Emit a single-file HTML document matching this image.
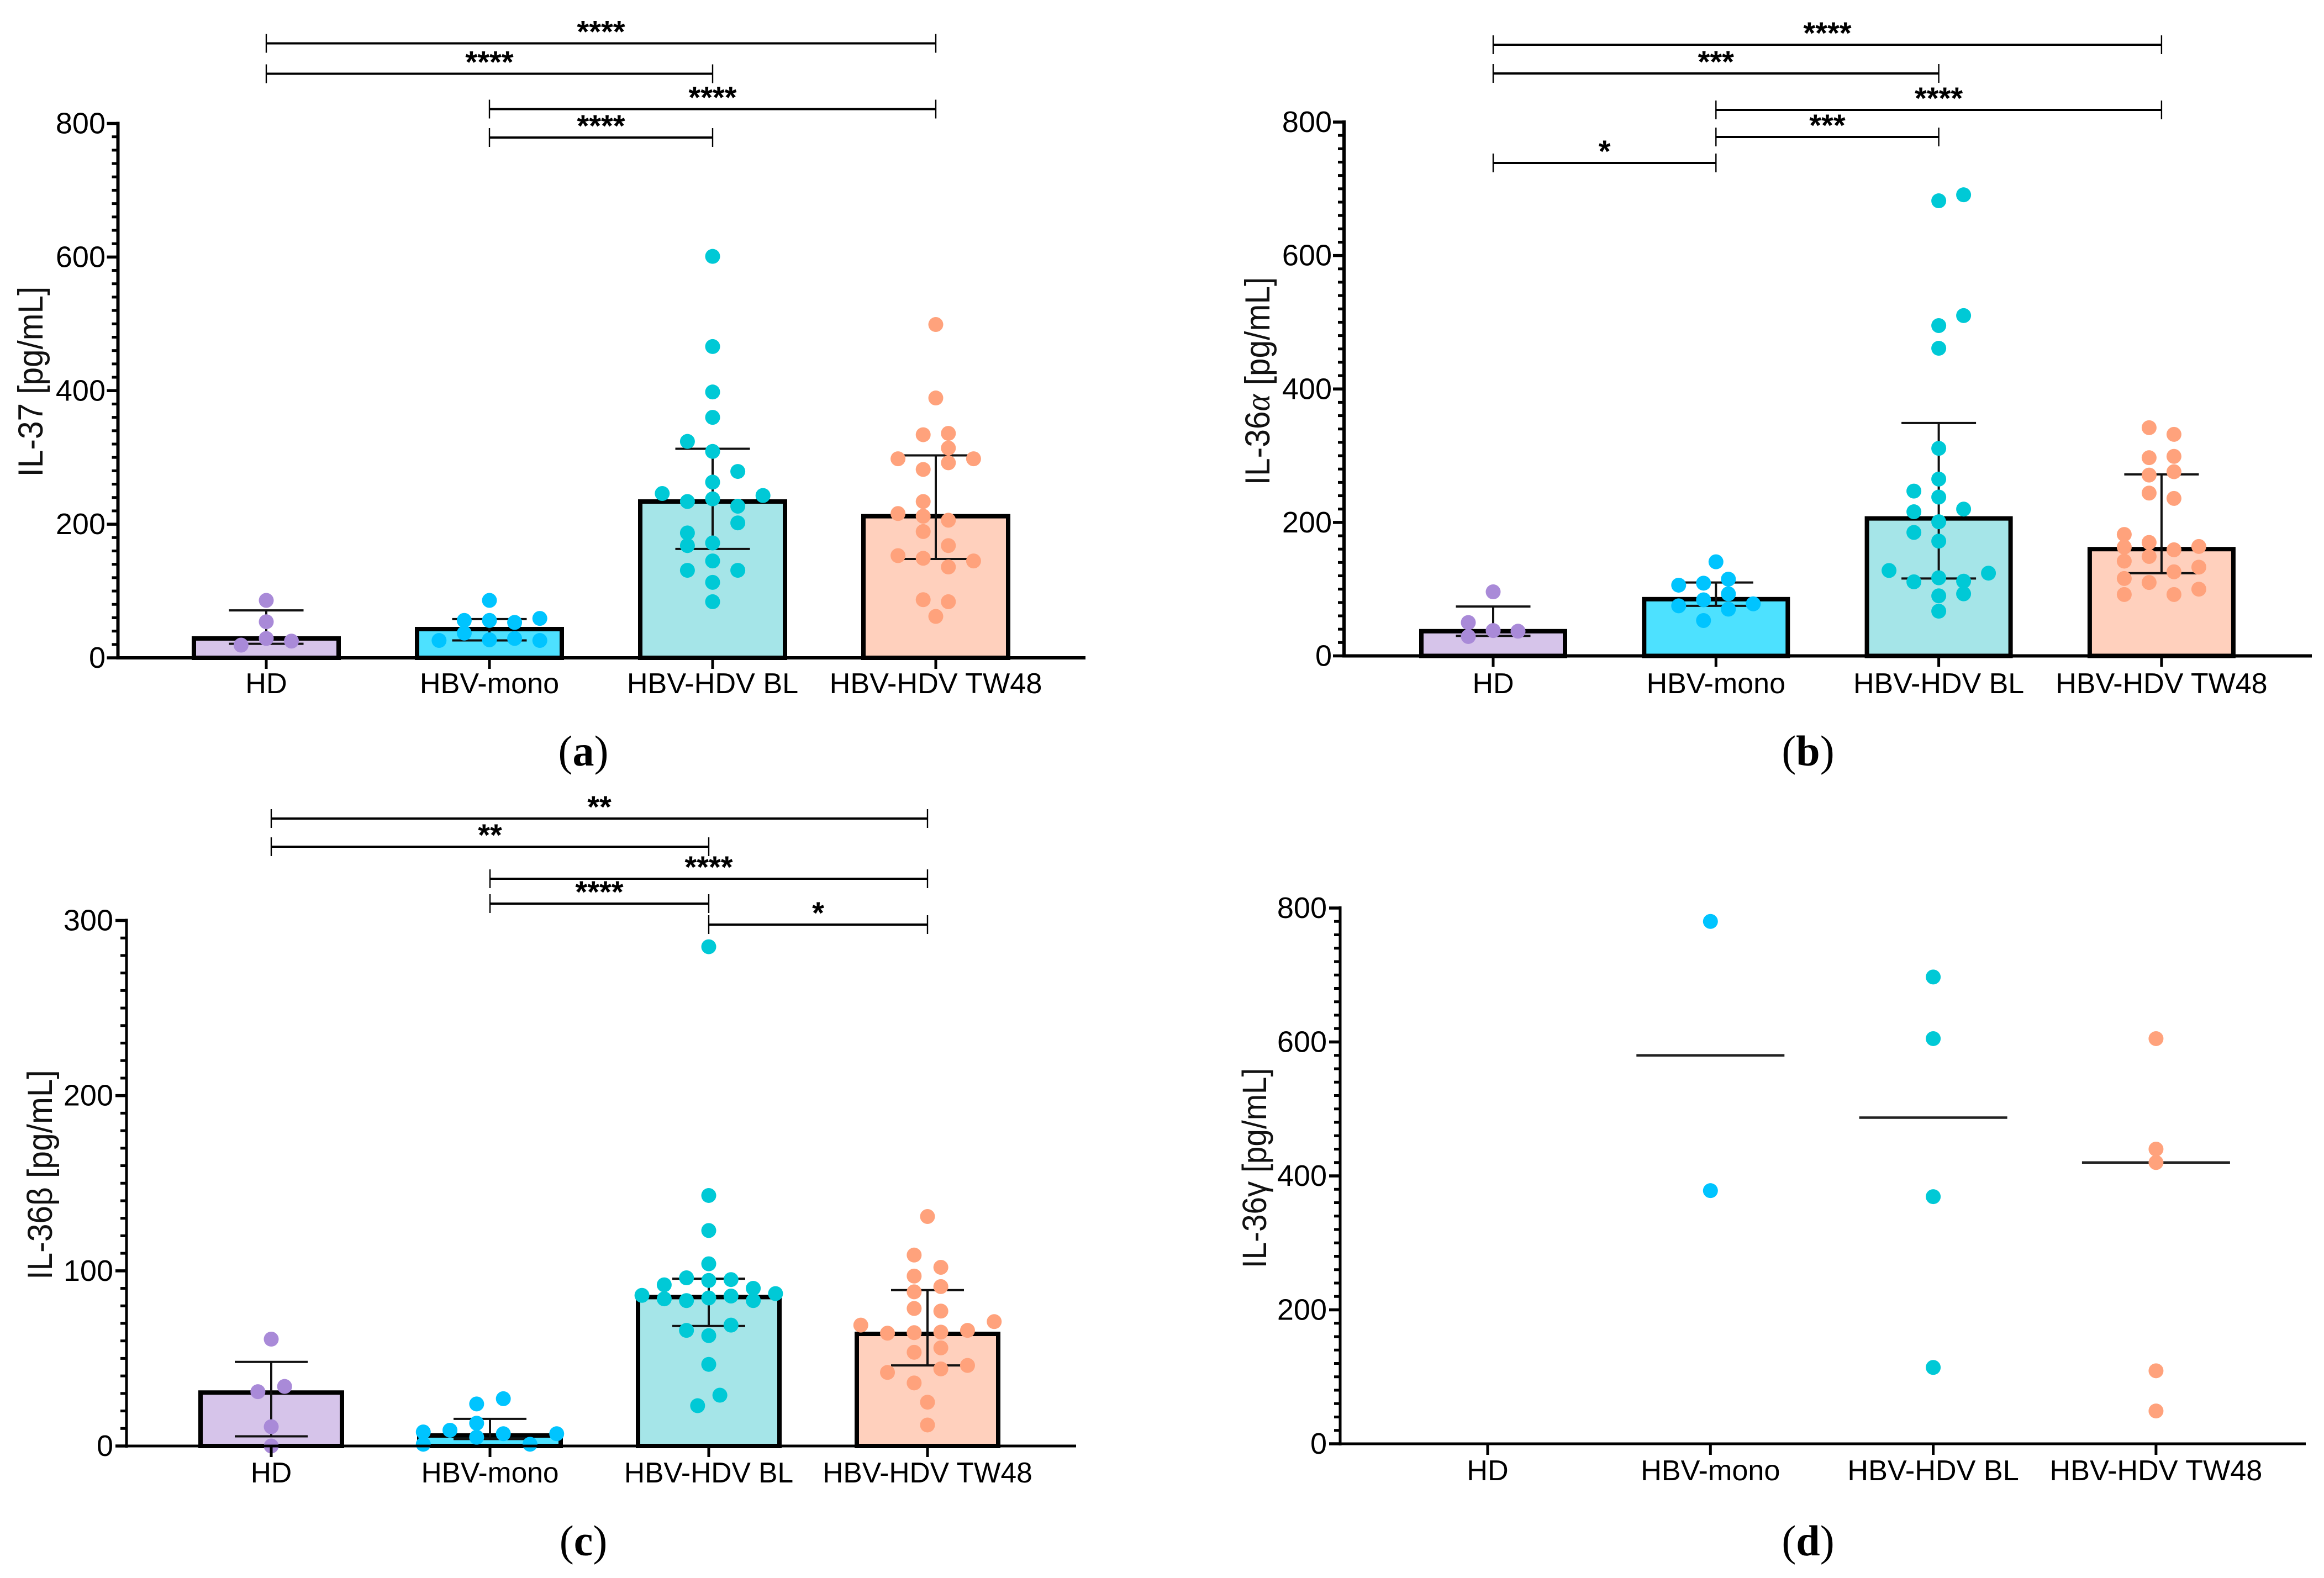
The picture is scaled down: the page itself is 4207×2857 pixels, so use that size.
<!DOCTYPE html>
<html lang="en">
<head>
<meta charset="utf-8">
<title>IL-37 and IL-36 cytokine levels</title>
<style>
html,body{margin:0;padding:0;background:#fff;}
svg{display:block;font-family:"Liberation Sans",Arial,sans-serif;}
</style>
</head>
<body>
<svg id="figure" xmlns="http://www.w3.org/2000/svg" width="4207" height="2857" viewBox="0 0 4207 2857">
  <rect x="0" y="0" width="4207" height="2857" fill="#fff"/>
</svg>
<script>
// ---------- shared categories ----------
const categories = ['HD', 'HBV-mono', 'HBV-HDV BL', 'HBV-HDV TW48'];

// ---------- panel (a) IL-37 ----------
const aYTicks = [0, 200, 400, 600, 800];
const aHdValues = [86, 54, 29, 19, 25];
const aHdSlots = [0, 0, 0, -1, 1];
const aMonoValues = [86, 59, 56, 56, 53, 37, 26, 27, 29, 26];
const aMonoSlots = [0, 2, -1, 0, 1, -1, -2, 0, 1, 2];
const aBlValues = [601, 466, 398, 360, 324, 309, 279, 263, 246, 243, 234, 238, 227, 202, 187, 172, 168, 145, 131, 131, 113, 84];
const aBlSlots = [0, 0, 0, 0, -1, 0, 1, 0, -2, 2, -1, 0, 1, 1, -1, 0, -1, 0, -1, 1, 0, 0];
const aTwValues = [499, 389, 334, 336, 314, 298, 298, 292, 282, 234, 216, 212, 206, 189, 168, 153, 149, 145, 136, 87, 84, 62];
const aTwSlots = [0, 0, -0.5, 0.5, 0.5, -1.5, 1.5, 0.5, -0.5, -0.5, -1.5, -0.5, 0.5, -0.5, 0.5, -1.5, -0.5, 1.5, 0.5, -0.5, 0.5, 0];
const aBarValues = [29, 43, 234, 212];
const aErrHigh = [71, 58, 313, 303];
const aErrLow = [21, 26, 163, 148];
const aBracketFrom = [0, 0, 1, 1];
const aBracketTo = [3, 2, 3, 2];
const aBracketStars = ['****', '****', '****', '****'];

// ---------- panel (b) IL-36 alpha ----------
const bYTicks = [0, 200, 400, 600, 800];
const bHdValues = [96, 50, 38, 37, 29];
const bHdSlots = [0, -1, 0, 1, -1];
const bMonoValues = [141, 115, 109, 106, 93, 84, 78, 75, 70, 53];
const bMonoSlots = [0, 0.5, -0.5, -1.5, 0.5, -0.5, 1.5, -1.5, 0.5, -0.5];
const bBlValues = [682, 691, 510, 495, 461, 311, 265, 247, 238, 216, 220, 201, 185, 172, 128, 124, 117, 111, 112, 93, 90, 67];
const bBlSlots = [0, 1, 1, 0, 0, 0, 0, -1, 0, -1, 1, 0, -1, 0, -2, 2, 0, -1, 1, 1, 0, 0];
const bTwValues = [342, 332, 297, 299, 271, 276, 244, 236, 182, 170, 163, 159, 164, 149, 142, 133, 116, 126, 110, 92, 92, 100];
const bTwSlots = [-0.5, 0.5, -0.5, 0.5, -0.5, 0.5, -0.5, 0.5, -1.5, -0.5, -1.5, 0.5, 1.5, -0.5, -1.5, 1.5, -1.5, 0.5, -0.5, -1.5, 0.5, 1.5];
const bBarValues = [37, 85, 206, 160];
const bErrHigh = [74, 110, 349, 272];
const bErrLow = [30, 75, 116, 124];
const bBracketFrom = [0, 0, 1, 1, 0];
const bBracketTo = [3, 2, 3, 2, 1];
const bBracketStars = ['****', '***', '****', '***', '*'];

// ---------- panel (c) IL-36 beta ----------
const cYTicks = [0, 100, 200, 300];
const cHdValues = [61, 34, 31, 11, 0];
const cHdSlots = [0, 0.5, -0.5, 0, 0];
const cMonoValues = [27, 24, 13, 9, 8, 7, 7, 5, 1, 1];
const cMonoSlots = [0.5, -0.5, -0.5, -1.5, -2.5, 2.5, 0.5, -0.5, -2.5, 1.5];
const cBlValues = [285, 143, 123, 104, 96, 95, 94.5, 92, 90, 86, 87, 84, 83, 83, 84.5, 85.6, 69, 66, 63, 46.6, 29, 23];
const cBlSlots = [0, 0, 0, 0, -1, 1, 0, -2, 2, -3, 3, -2, 2, -1, 0, 1, 1, -1, 0, 0, 0.5, -0.5];
const cTwValues = [131, 109, 102, 97, 91, 88, 78.5, 77, 71, 69, 64.4, 64.7, 65, 66, 56, 53.5, 46, 44, 42, 36, 25, 12];
const cTwSlots = [0, -0.5, 0.5, -0.5, 0.5, -0.5, -0.5, 0.5, 2.5, -2.5, -1.5, -0.5, 0.5, 1.5, 0.5, -0.5, 1.5, 0.5, -1.5, -0.5, 0, 0];
const cBarValues = [30.5, 6, 85, 64];
const cErrHigh = [48, 15.5, 95.5, 89];
const cErrLow = [5.5, 4, 68.5, 46];
const cBracketFrom = [0, 0, 1, 1, 2];
const cBracketTo = [3, 2, 3, 2, 3];
const cBracketStars = ['**', '**', '****', '****', '*'];

// ---------- panel (d) IL-36 gamma ----------
const dYTicks = [0, 200, 400, 600, 800];
const dHdValues = [];
const dMonoValues = [780, 378];
const dBlValues = [697, 605, 369, 114];
const dTwValues = [605, 440, 420, 109, 49];
const dMedians = [null, 580, 487, 420];

// ---------- styles ----------
const fillColors = ['#D6C4EA', '#4DE1FF', '#A5E5E8', '#FFD0BD'];
const dotColors = ['#A98AD8', '#00C4FF', '#00C9D6', '#FFA27C'];
const SVG_NS = 'http://www.w3.org/2000/svg';
const root = document.getElementById('figure');

function make(tag, parent, attrs, text) {
  const node = document.createElementNS(SVG_NS, tag);
  for (const k in attrs) node.setAttribute(k, attrs[k]);
  if (text !== undefined) node.textContent = text;
  parent.appendChild(node);
  return node;
}

function drawPanel(p) {
  const g = make('g', root, {});
  
  

  const yScale = v => p.y0 - v * (p.y0 - p.yTop) / p.yMax;
  const xScale = i => p.cat0 + i * p.catStep;

  // bars and error bars
  if (p.bars) {
    p.bars.forEach((v, i) => {
      const bw = p.barWidth, sw = 8;
      const bar = make('rect', g, {
        x: xScale(i) - bw / 2 + sw / 2, y: yScale(v),
        width: bw - sw, height: Math.max(0, p.y0 - yScale(v)),
        fill: fillColors[i], stroke: '#000', 'stroke-width': sw
      });
      
      

      const stem = make('line', g, {
        x1: xScale(i), x2: xScale(i), y1: yScale(p.errHigh[i]), y2: yScale(p.errLow[i]),
        stroke: '#111', 'stroke-width': 4
      });
      
      

      [p.errHigh[i], p.errLow[i]].forEach(e => {
        const cap = make('line', g, {
          x1: xScale(i) - p.capWidth / 2, x2: xScale(i) + p.capWidth / 2, y1: yScale(e), y2: yScale(e),
          stroke: '#111', 'stroke-width': 4
        });
        
        
      });
    });
  }

  // median lines
  if (p.medians) {
    p.medians.forEach((m, i) => {
      if (m === null) return;
      const med = make('line', g, {
        x1: xScale(i) - 134, x2: xScale(i) + 134, y1: yScale(m), y2: yScale(m),
        stroke: '#222', 'stroke-width': 4.5
      });
      
      
    });
  }

  // data points
  p.values.forEach((series, i) => {
    series.forEach((v, j) => {
      const slot = p.slots ? p.slots[i][j] : 0;
      const dot = make('circle', g, {
        cx: xScale(i) + slot * p.slotPx[i], cy: yScale(v), r: 13.5, fill: dotColors[i]
      });
      
      
    });
  });

  // y axis
  const yAxis = make('line', g, {
    x1: p.x0, x2: p.x0, y1: p.yTop - 3, y2: p.y0 + 3, stroke: '#000', 'stroke-width': p.axisW
  });
  
  

  for (let k = 0; k * p.minorStep <= p.yMax; k++) {
    const v = k * p.minorStep;
    if (p.ticks.indexOf(v) >= 0) continue;
    const minor = make('line', g, {
      x1: p.x0 - 11, x2: p.x0, y1: yScale(v), y2: yScale(v), stroke: '#000', 'stroke-width': 5
    });
    
    
  }

  p.ticks.forEach(v => {
    const tick = make('line', g, {
      x1: p.x0 - 20, x2: p.x0, y1: yScale(v), y2: yScale(v), stroke: '#000', 'stroke-width': 5.5
    });
    
    
    const label = make('text', g, {
      x: p.labelRight, y: yScale(v) + 18, 'text-anchor': 'end', 'font-size': 54, fill: '#000'
    }, String(v));
    
    
  });

  // x axis
  const xAxis = make('line', g, {
    x1: p.x0 - 3, x2: p.xEnd, y1: p.y0, y2: p.y0, stroke: '#000', 'stroke-width': p.axisW
  });
  
  

  categories.forEach((c, i) => {
    const tick = make('line', g, {
      x1: xScale(i), x2: xScale(i), y1: p.y0, y2: p.y0 + 20, stroke: '#000', 'stroke-width': 5
    });
    
    
    const label = make('text', g, {
      x: xScale(i), y: p.xLabelY, 'text-anchor': 'middle', 'font-size': p.xFont, fill: '#000'
    }, c);
    
    
  });

  // y axis title
  const title = make('text', g, {
    transform: 'translate(' + p.titleX + ',' + p.titleY + ') rotate(-90) scale(1,1.08)',
    'text-anchor': 'middle', 'font-size': p.titleSize, fill: '#111'
  });
  
  
  make('tspan', title, {}, p.titleA);
  make('tspan', title, p.greekAttrs || {}, p.titleGreek);
  make('tspan', title, {}, p.titleB);

  // significance brackets
  if (p.bracketFrom) {
    p.bracketFrom.forEach((from, i) => {
      const to = p.bracketTo[i];
      const by = p.bracketY[i];
      const xa = xScale(from), xb = xScale(to);
      const bar = make('line', g, {
        x1: xa, x2: xb, y1: by, y2: by, stroke: '#000', 'stroke-width': 4
      });
      
      
      [xa, xb].forEach(x => {
        const end = make('line', g, {
          x1: x, x2: x, y1: by - 17, y2: by + 17, stroke: '#000', 'stroke-width': 2.4
        });
        
        
      });
      const stars = make('text', g, {
        x: (xa + xb) / 2, y: by - 2, 'text-anchor': 'middle',
        'font-size': 56, 'font-weight': 'bold', fill: '#000'
      }, p.bracketStars[i]);
      
      
    });
  }

  // panel caption
  const cap = make('text', g, {
    x: p.captionX, y: p.captionY, 'text-anchor': 'middle', 'font-size': 78,
    'font-family': '"Liberation Serif",serif', fill: '#000'
  });
  
  
  make('tspan', cap, {}, '(');
  make('tspan', cap, { 'font-weight': 'bold' }, p.id);
  make('tspan', cap, {}, ')');
}

drawPanel({
  id: 'a', x0: 213.5, xEnd: 1965, y0: 1191, yTop: 223.5, yMax: 800, ticks: aYTicks, minorStep: 20,
  cat0: 482, catStep: 404, barWidth: 270, capWidth: 135, axisW: 6, labelRight: 191, xLabelY: 1255, xFont: 52.2,
  slotPx: [45.6, 45.6, 45.6, 45.6],
  values: [aHdValues, aMonoValues, aBlValues, aTwValues],
  slots: [aHdSlots, aMonoSlots, aBlSlots, aTwSlots],
  bars: aBarValues, errHigh: aErrHigh, errLow: aErrLow,
  titleX: 77, titleY: 691, titleSize: 58.5, titleA: 'IL-37 [pg/mL]', titleGreek: '', titleB: '',
  bracketFrom: aBracketFrom, bracketTo: aBracketTo, bracketStars: aBracketStars, bracketY: [78.5, 133.5, 197.5, 249],
  captionX: 1056, captionY: 1386
});

drawPanel({
  id: 'b', x0: 2433, xEnd: 4185, y0: 1187.5, yTop: 221, yMax: 800, ticks: bYTicks, minorStep: 20,
  cat0: 2703, catStep: 403.3, barWidth: 268, capWidth: 135, axisW: 6, labelRight: 2411, xLabelY: 1255, xFont: 52,
  slotPx: [45, 45, 45, 45],
  values: [bHdValues, bMonoValues, bBlValues, bTwValues],
  slots: [bHdSlots, bMonoSlots, bBlSlots, bTwSlots],
  bars: bBarValues, errHigh: bErrHigh, errLow: bErrLow,
  titleX: 2298, titleY: 690, titleSize: 58.7, titleA: 'IL-36', titleGreek: 'α', titleB: ' [pg/mL]',
  greekAttrs: { 'font-family': '"Liberation Serif",serif', 'font-style': 'italic' },
  bracketFrom: bBracketFrom, bracketTo: bBracketTo, bracketStars: bBracketStars, bracketY: [81, 133, 199, 248, 295],
  captionX: 3273, captionY: 1386
});

drawPanel({
  id: 'c', x0: 229, xEnd: 1948, y0: 2618, yTop: 1666.5, yMax: 300, ticks: cYTicks, minorStep: 10,
  cat0: 491, catStep: 396, barWidth: 264, capWidth: 132, axisW: 5, labelRight: 205, xLabelY: 2684, xFont: 51.5,
  slotPx: [48.3, 48.3, 40.3, 48.3],
  values: [cHdValues, cMonoValues, cBlValues, cTwValues],
  slots: [cHdSlots, cMonoSlots, cBlSlots, cTwSlots],
  bars: cBarValues, errHigh: cErrHigh, errLow: cErrLow,
  titleX: 94, titleY: 2127, titleSize: 58.7, titleA: 'IL-36', titleGreek: 'β', titleB: ' [pg/mL]',
  bracketFrom: cBracketFrom, bracketTo: cBracketTo, bracketStars: cBracketStars, bracketY: [1482, 1533, 1591, 1636, 1674],
  captionX: 1056, captionY: 2816
});

drawPanel({
  id: 'd', x0: 2426, xEnd: 4174, y0: 2614, yTop: 1644, yMax: 800, ticks: dYTicks, minorStep: 20,
  cat0: 2693, catStep: 403.3, axisW: 5, labelRight: 2402, xLabelY: 2680, xFont: 52.2,
  slotPx: [0, 0, 0, 0],
  values: [dHdValues, dMonoValues, dBlValues, dTwValues],
  medians: dMedians,
  titleX: 2292, titleY: 2115, titleSize: 56.7, titleA: 'IL-36', titleGreek: 'γ', titleB: ' [pg/mL]',
  captionX: 3273, captionY: 2816
});
</script>
</body>
</html>
